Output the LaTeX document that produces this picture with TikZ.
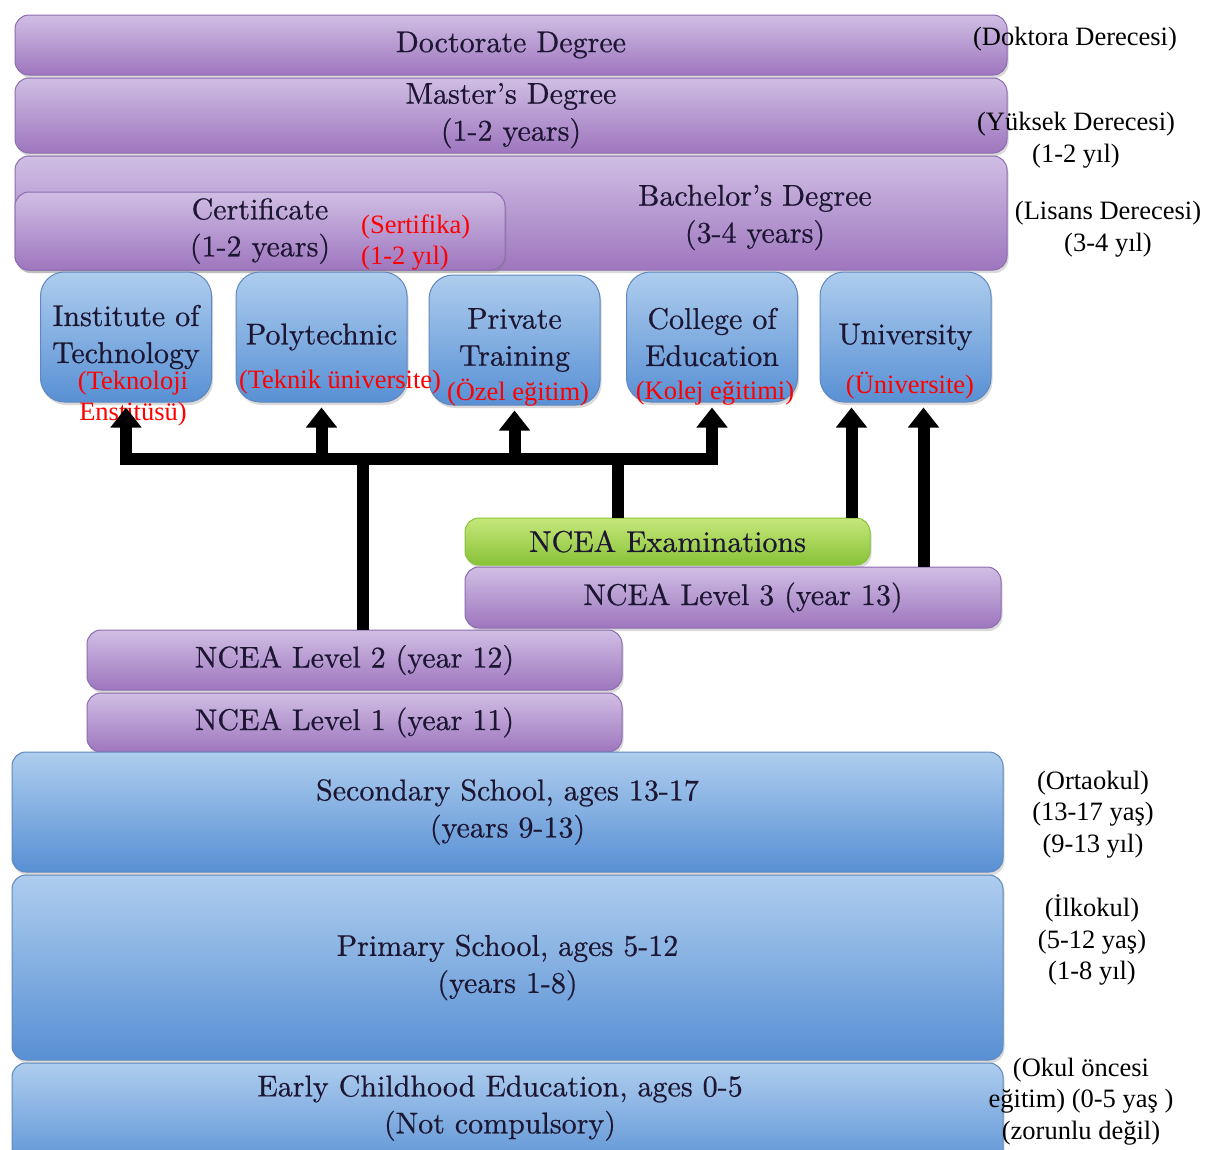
\documentclass[tikz,border=0pt]{standalone}
\usepackage{fontspec}
\newfontfamily\trfont{Liberation Serif}
\newfontfamily\boxfont[FakeBold=0.6]{lmroman10-regular.otf}
\usetikzlibrary{arrows.meta,shadows}

\definecolor{lavtop}{RGB}{208,190,228}
\definecolor{lavbot}{RGB}{158,118,190}
\definecolor{lavline}{RGB}{140,108,176}
\definecolor{skytop}{RGB}{174,205,238}
\definecolor{skybot}{RGB}{88,144,212}
\definecolor{skyline}{RGB}{96,136,190}
\definecolor{limetop}{RGB}{198,232,122}
\definecolor{limebot}{RGB}{136,194,56}
\definecolor{inkblue}{RGB}{28,22,50}

\tikzset{
  boxtext/.style={text=inkblue, font=\boxfont\fontsize{30}{37}\selectfont, align=center, inner sep=0pt},
  stage/.style={boxtext, draw=lavline, line width=1pt, rounded corners=14pt, top color=lavtop, bottom color=lavbot,
    drop shadow={shadow xshift=1.5pt, shadow yshift=-3pt, opacity=0.3}},
  school/.style={stage, draw=skyline, top color=skytop, bottom color=skybot},
  exam/.style={stage, draw=limebot, top color=limetop, bottom color=limebot},
  inst/.style={school, rounded corners=24pt, minimum width=171pt, minimum height=130pt},
  trnote/.style={font=\trfont\fontsize{26.5}{31.5}\selectfont, align=center, inner sep=0pt},
  rednote/.style={trnote, text=red},
  barline/.style={line width=12pt, line join=miter},
  flow/.style={barline, -{Triangle[width=30pt,length=20pt]}, shorten >=5pt}
}

\begin{document}
\begin{tikzpicture}[x=1pt, y=-1pt]
    \useasboundingbox (0,0) rectangle (1215,1149);

    % degrees
    \node[stage, minimum width=992pt, minimum height=60pt] (doct) at (511,45) {Doctorate Degree};
    \node[stage, minimum width=992pt, minimum height=75pt] (mast) at (511,115.5) {Master’s Degree\\(1-2 years)};
    \node[stage, minimum width=992pt, minimum height=114pt] (bach) at (511,213) {};
    \node[boxtext] (bachtext) at (755,217.5) {Bachelor’s Degree\\(3-4 years)};
    \node[stage, minimum width=490pt, minimum height=78pt] (cert) at (260,231) {Certificate\\(1-2 years)};

    % tertiary providers
    \node[inst] (itech) at (126,337) {Institute of\\Technology};
    \node[inst] (poly) at (321.5,337) {Polytechnic};
    \node[inst] (ptrain) at (514.5,340) {Private\\Training};
    \node[inst] (coled) at (712,337) {College of\\Education};
    \node[inst] (univ) at (905.5,337) {University};

    % NCEA
    \node[exam, minimum width=405pt, minimum height=47pt] (ncea) at (667.5,541.5) {NCEA Examinations};
    \node[stage, minimum width=536pt, minimum height=61pt] (lvl3) at (733,597.5) {\hspace*{20pt}NCEA Level 3 (year 13)};
    \node[stage, minimum width=535pt, minimum height=60pt] (lvl2) at (354.5,660) {NCEA Level 2 (year 12)};
    \node[stage, minimum width=535pt, minimum height=59pt] (lvl1) at (354.5,722.5) {NCEA Level 1 (year 11)};

    % schools
    \node[school, minimum width=991pt, minimum height=120pt] (sec) at (507.5,812) {Secondary School, ages 13-17\\(years 9-13)};
    \node[school, minimum width=991pt, minimum height=185pt] (prim) at (507.5,967.5) {Primary School, ages 5-12\\(years 1-8)};
    \node[school, minimum width=991pt, minimum height=110pt] (early) at (507.5,1118) {};
    \node[boxtext] (earlytext) at (500,1108) {Early Childhood Education, ages 0-5\\(Not compulsory)};

    % Turkish notes
    \node[trnote] (trdoct) at (1075,39) {(Doktora Derecesi)};
    \node[trnote] (trmast) at (1076,140) {(Yüksek Derecesi)\\(1-2 yıl)};
    \node[trnote] (trbach) at (1108,229) {(Lisans Derecesi)\\(3-4 yıl)};
    \node[trnote] (trsec) at (1093,814.5) {(Ortaokul)\\(13-17 yaş)\\(9-13 yıl)};
    \node[trnote] (trprim) at (1092,940) {(İlkokul)\\(5-12 yaş)\\(1-8 yıl)};
    \node[trnote] (trearly) at (1081,1101.5) {(Okul öncesi\\eğitim) (0-5 yaş )\\(zorunlu değil)};

    \node[rednote, align=left, anchor=west] (trcert) at (361,242.5) {(Sertifika)\\(1-2 yıl)};
    \node[rednote] (tritech) at (133,398.5) {(Teknoloji\\Enstitüsü)};
    \node[rednote] (trpoly) at (340,382) {(Teknik üniversite)};
    \node[rednote] (trptrain) at (518,393) {(Özel eğitim)};
    \node[rednote] (trcoled) at (715,393) {(Kolej eğitimi)};
    \node[rednote] (truniv) at (910,386) {(Üniversite)};

    % pathways
    \coordinate (bar) at (0,459);
    \path ([xshift=8pt]lvl2.north) coordinate (lvtop)
          ([xshift=-50pt]ncea.north) coordinate (extop)
          ([xshift=-54pt]univ.south) coordinate (ua)
          ([xshift=18pt]univ.south) coordinate (ub);
    \draw[barline, {Triangle[width=30pt,length=20pt]}-{Triangle[width=30pt,length=20pt]}, shorten <=5pt, shorten >=5pt]
        (itech.south) -- (itech.south |- bar) -- (coled.south |- bar) -- (coled.south);
    \draw[flow] (poly.south |- bar) -- (poly.south);
    \draw[flow] (ptrain.south |- bar) -- (ptrain.south);
    \draw[barline] (lvtop) -- (lvtop |- bar);
    \draw[barline] (extop) -- (extop |- bar);
    \draw[flow] (ua |- ncea.north) -- (ua);
    \draw[flow] (ub |- lvl3.north) -- (ub);
\end{tikzpicture}
\end{document}
